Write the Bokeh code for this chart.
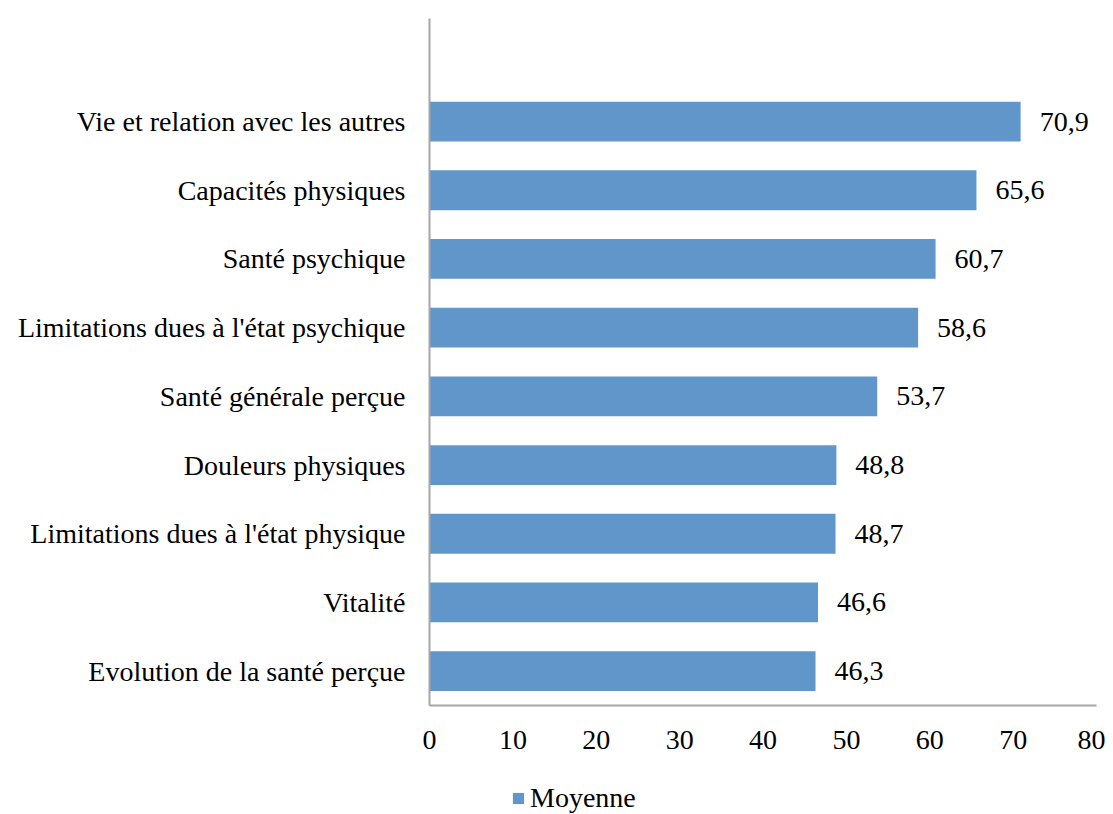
from bokeh.plotting import figure
from bokeh.layouts import column
from bokeh.models import ColumnDataSource, Range1d, LabelSet, Legend, LegendItem, FixedTicker
from bokeh.embed import file_html
from bokeh.resources import INLINE

categories = [
    "Evolution de la santé perçue",
    "Vitalité",
    "Limitations dues à l'état physique",
    "Douleurs physiques",
    "Santé générale perçue",
    "Limitations dues à l'état psychique",
    "Santé psychique",
    "Capacités physiques",
    "Vie et relation avec les autres",
]
values = [46.3, 46.6, 48.7, 48.8, 53.7, 58.6, 60.7, 65.6, 70.9]
series_name = "Moyenne"
x_ticks = [0, 10, 20, 30, 40, 50, 60, 70, 80]

FONT = "Liberation Serif"
FS = "28px"
BAR = "#6096CA"
AXIS = "#A6A6A6"

pos = list(range(len(categories)))
src = ColumnDataSource(dict(
    y=pos, v=values, lab=[f"{v:.1f}".replace(".", ",") for v in values]
))

p = figure(width=1105, height=778, output_backend="svg", toolbar_location=None,
           x_range=Range1d(0, 80), y_range=Range1d(-0.5, len(categories) + 0.5),
           min_border_left=429, min_border_right=9, min_border_top=18,
           min_border_bottom=73)
p.outline_line_color = None
p.xgrid.visible = False
p.ygrid.visible = False

r = p.hbar(y="y", right="v", left=0, height=0.58, source=src,
           fill_color=BAR, line_color=None)

labels = LabelSet(x="v", y="y", text="lab", source=src, x_offset=19,
                  text_baseline="middle", text_font=FONT, text_font_size=FS,
                  text_color="black")
p.add_layout(labels)

p.xaxis.ticker = FixedTicker(ticks=x_ticks)
p.yaxis.ticker = FixedTicker(ticks=pos)
p.yaxis.major_label_overrides = {i: c for i, c in enumerate(categories)}
for ax in (p.xaxis[0], p.yaxis[0]):
    ax.axis_line_color = AXIS
    ax.axis_line_width = 2
    ax.major_tick_out = 0
    ax.major_tick_in = 0
    ax.minor_tick_out = 0
    ax.minor_tick_in = 0
    ax.major_label_text_font = FONT
    ax.major_label_text_font_size = FS
    ax.major_label_text_color = "black"
p.xaxis.major_label_standoff = 25
p.yaxis.major_label_standoff = 24

# separate strip for the legend, below the chart (its frame is aligned with the chart's)
leg = figure(width=1105, height=36, output_backend="svg", toolbar_location=None,
             x_range=Range1d(0, 1), y_range=Range1d(0, 1),
             min_border=0, x_axis_type=None, y_axis_type=None)
leg.outline_line_color = None
leg.border_fill_color = "white"
leg.background_fill_color = "white"
leg.xgrid.visible = False
leg.ygrid.visible = False
dummy = leg.hbar(y=[50], right=[60], left=50, height=0.5, fill_color=BAR,
                 line_color=None, line_alpha=0)
legend = Legend(items=[LegendItem(label=series_name, renderers=[dummy])],
                location=(82, 0), orientation="horizontal",
                label_text_font=FONT, label_text_font_size=FS, label_text_color="black",
                border_line_color=None, background_fill_alpha=0,
                glyph_width=14, glyph_height=14, label_standoff=5,
                padding=0, margin=0)
leg.add_layout(legend, "center")

layout = column(p, leg, spacing=0)
open("out.html", "w").write(file_html(layout, INLINE))
